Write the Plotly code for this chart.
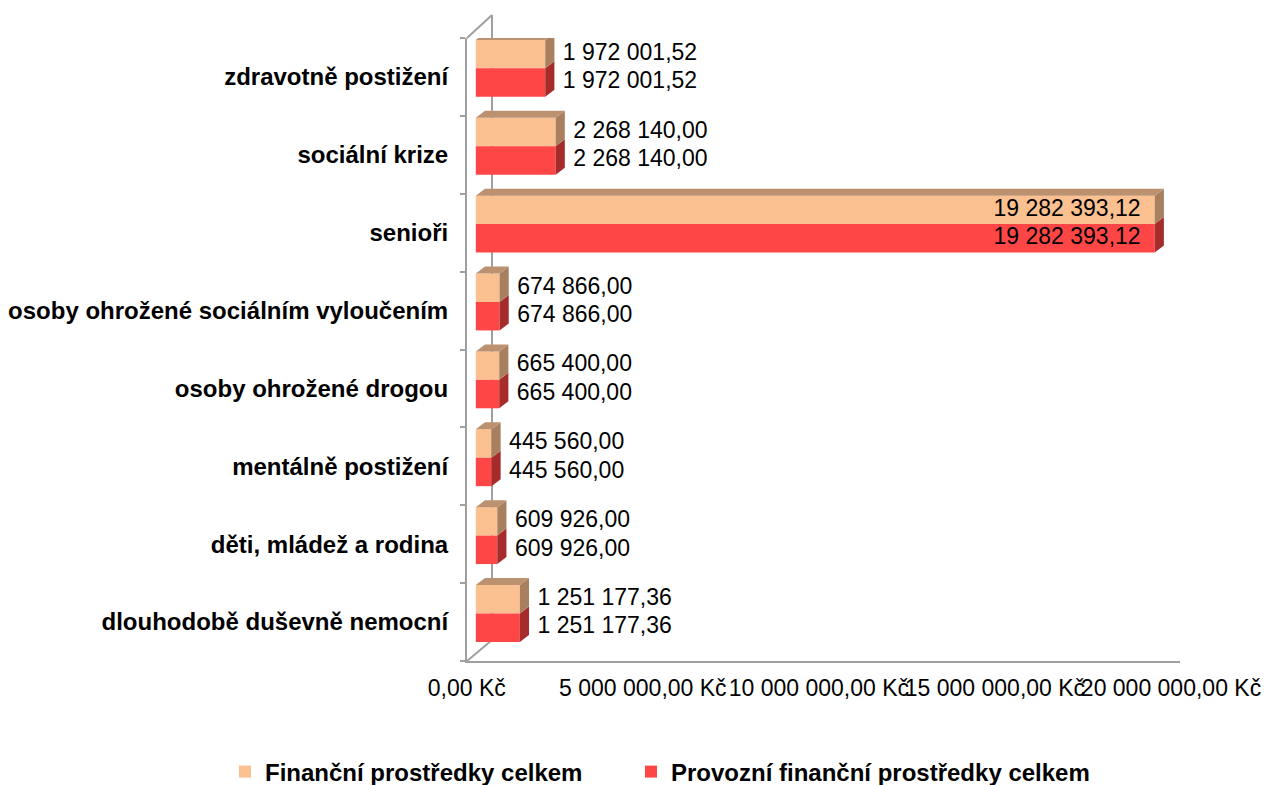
import numpy as np
import plotly.graph_objects as go

# the page body adds an 8px margin at the top left, so the figure is drawn 8px smaller
page_offset = 8
width_standard = 1270 - page_offset
height_standard = 785 - page_offset
font_family = "Liberation Sans, Arial, sans-serif"

categories = [
    "dlouhodobě duševně nemocní",
    "děti, mládež a rodina",
    "mentálně postižení",
    "osoby ohrožené drogou",
    "osoby ohrožené sociálním vyloučením",
    "senioři",
    "sociální krize",
    "zdravotně postižení",
]
financni = [1251177.36, 609926.00, 445560.00, 665400.00, 674866.00, 19282393.12, 2268140.00, 1972001.52]
provozni = [1251177.36, 609926.00, 445560.00, 665400.00, 674866.00, 19282393.12, 2268140.00, 1972001.52]
x_ticks = [0, 5000000, 10000000, 15000000, 20000000]

series_names = ["Finanční prostředky celkem", "Provozní finanční prostředky celkem"]
front_colors = ["#FAC090", "#FF4646"]
side_colors = ["#A9805F", "#A62C2C"]
top_color = "#BC9170"

# pseudo 3D geometry (in data units)
bar_h = 0.365
lift = 0.11
dx = 0.26e6
dy = 0.09

# plot frame in screen pixels
plot_x0, plot_x1, plot_y0, plot_y1 = 467, 1180, 38, 661
left = plot_x0 - page_offset
top = plot_y0 - page_offset
right = width_standard - (plot_x1 - page_offset)
bottom = height_standard - (plot_y1 - page_offset)
plot_w = plot_x1 - plot_x0
plot_h = plot_y1 - plot_y0


def cz(v):
    return f"{v:,.2f}".replace(",", " ").replace(".", ",")


def px(x, y):
    return (x - plot_x0) / plot_w, (plot_y1 - y) / plot_h


def side_faces(values, lo, hi):
    xs, ys = [], []
    for v, a, b in zip(values, lo, hi):
        xs += [v, v + dx, v + dx, v, v, None]
        ys += [a, a + dy, b + dy, b, a, None]
    return xs, ys


def top_faces(values, hi):
    xs, ys = [], []
    for v, b in zip(values, hi):
        xs += [0, dx, v + dx, v, 0, None]
        ys += [b, b + dy, b + dy, b, b, None]
    return xs, ys


pos = np.arange(len(categories)) + lift
fin_y = pos + bar_h / 2
pro_y = pos - bar_h / 2

fig = go.Figure()

for name, vals, yc, color, leg in [
    (series_names[0], financni, fin_y, front_colors[0], "legend"),
    (series_names[1], provozni, pro_y, front_colors[1], "legend2"),
]:
    fig.add_trace(go.Bar(
        x=vals, y=yc, orientation="h", width=bar_h, base=0,
        name="<b>" + name + "</b>", legend=leg,
        marker=dict(color=color, line=dict(width=0)),
        hoverinfo="skip",
    ))

# side and top faces
xs, ys = side_faces(provozni, pro_y - bar_h / 2, pro_y + bar_h / 2)
fig.add_trace(go.Scatter(x=xs, y=ys, fill="toself", fillcolor=side_colors[1], mode="lines",
                         line=dict(width=0), showlegend=False, hoverinfo="skip"))
xs, ys = side_faces(financni, fin_y - bar_h / 2, fin_y + bar_h / 2)
fig.add_trace(go.Scatter(x=xs, y=ys, fill="toself", fillcolor=side_colors[0], mode="lines",
                         line=dict(width=0), showlegend=False, hoverinfo="skip"))
xs, ys = top_faces(financni, fin_y + bar_h / 2)
fig.add_trace(go.Scatter(x=xs, y=ys, fill="toself", fillcolor=top_color, mode="lines",
                         line=dict(width=0), showlegend=False, hoverinfo="skip"))

# data labels
for vals, yc in [(financni, fin_y), (provozni, pro_y)]:
    inside = [v > 10e6 for v in vals]
    fig.add_trace(go.Scatter(
        x=[v - 0.4e6 if i else v + 0.5e6 for v, i in zip(vals, inside)],
        y=yc, mode="text",
        text=[cz(v) for v in vals],
        textposition=["middle left" if i else "middle right" for i in inside],
        textfont=dict(size=23, color="#000000", family=font_family),
        showlegend=False, hoverinfo="skip", cliponaxis=False,
    ))

# 3D frame lines
frame = [((492, 15), (492, 640)), ((467, 38), (492, 15)), ((467, 661), (492, 640))]
for p0, p1 in frame:
    x0, y0 = px(*p0)
    x1, y1 = px(*p1)
    fig.add_shape(type="line", xref="paper", yref="paper", x0=x0, y0=y0, x1=x1, y1=y1,
                  line=dict(color="#A0A0A0", width=2), layer="below")

leg1_x, leg_y = px(225, 772)
leg2_x, _ = px(631, 772)
legend_style = dict(orientation="h", xanchor="left", y=leg_y, yanchor="middle", font=dict(size=24))

fig.update_layout(
    width=width_standard,
    height=height_standard,
    margin=dict(l=left, r=right, t=top, b=bottom, autoexpand=False),
    plot_bgcolor="#ffffff",
    paper_bgcolor="#ffffff",
    barmode="overlay",
    font=dict(family=font_family, size=23, color="#000000"),
    legend=dict(x=leg1_x, **legend_style),
    legend2=dict(x=leg2_x, **legend_style),
)
fig.update_xaxes(
    range=[-0.25e6, 20e6], tickvals=x_ticks,
    ticktext=[cz(v) + " Kč" for v in x_ticks],
    showgrid=False, zeroline=False, automargin=False, tickangle=0,
    ticklabeloverflow="allow", ticklabelshift=-9,
    showline=True, linecolor="#A0A0A0", linewidth=2,
    ticks="", ticklabelstandoff=5,
    tickfont=dict(size=23),
)
fig.update_yaxes(
    range=[-0.5, 7.5], tickvals=list(range(len(categories))),
    ticktext=["<b>" + c + "</b>" for c in categories],
    showgrid=False, zeroline=False, automargin=False,
    showline=True, linecolor="#A0A0A0", linewidth=2,
    ticks="", ticklabelstandoff=12,
    minor=dict(tick0=-0.5, dtick=1, ticks="outside", ticklen=5, tickcolor="#A0A0A0", tickwidth=2),
    tickfont=dict(size=24),
)

fig.write_html("out.html")
